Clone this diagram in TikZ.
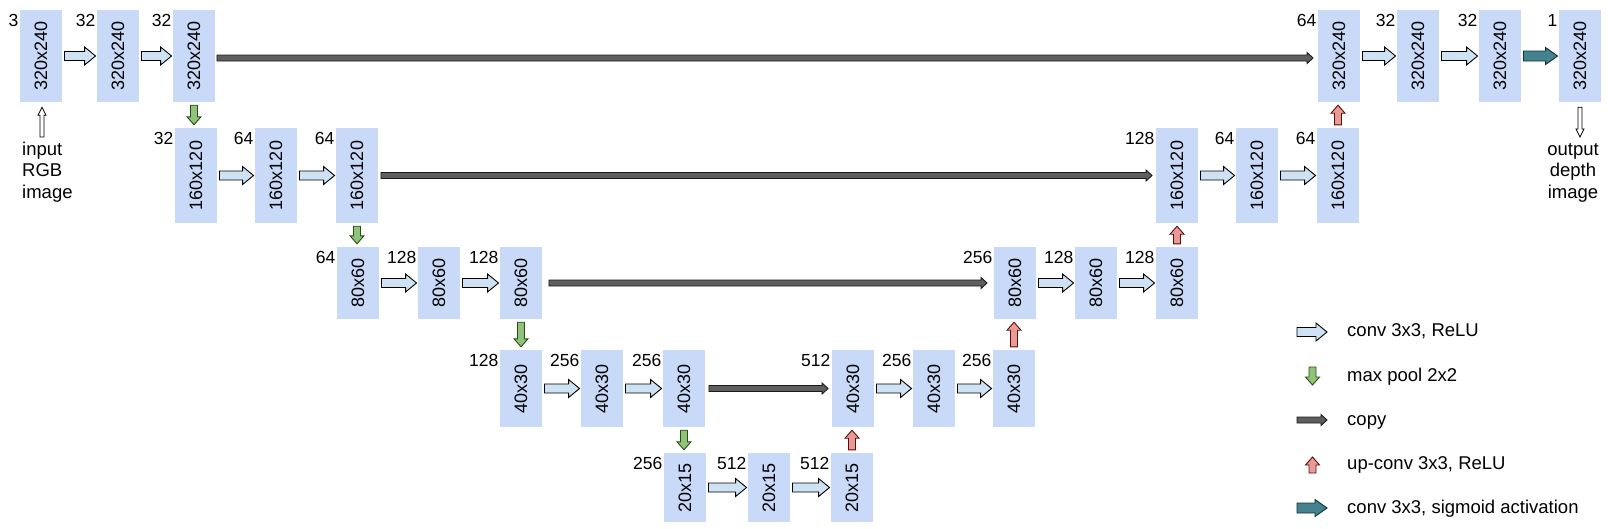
\documentclass[tikz,border=0pt]{standalone}
\usepackage{fontspec}
\setmainfont{Liberation Sans}
\usepackage{graphicx}
\usetikzlibrary{calc}
\definecolor{boxblue}{HTML}{C9DAF8}
\definecolor{convfill}{HTML}{CFE2F3}
\definecolor{poolfill}{HTML}{8FC27A}
\definecolor{pooldraw}{HTML}{274E13}
\definecolor{upfill}{HTML}{EA9999}
\definecolor{updraw}{HTML}{5B0F00}
\definecolor{copyfill}{HTML}{5E5E5E}
\definecolor{copydraw}{HTML}{1A1A1A}
\definecolor{sigfill}{HTML}{45818E}
\definecolor{sigdraw}{HTML}{0C343D}
% horizontal block arrow: style, start, end, half body, half head, head length
\newcommand\harr[6]{\filldraw[#1] let \p1=#2, \p2=#3 in
  (\x1,{\y1+#4}) -- ({\x2-#6},{\y1+#4}) -- ({\x2-#6},{\y1+#5}) -- (\x2,\y1)
  -- ({\x2-#6},{\y1-#5}) -- ({\x2-#6},{\y1-#4}) -- (\x1,{\y1-#4}) -- cycle;}
% downward block arrow
\newcommand\darr[6]{\filldraw[#1] let \p1=#2, \p2=#3 in
  ({\x1-#4},\y1) -- ({\x1-#4},{\y2+#6}) -- ({\x1-#5},{\y2+#6}) -- (\x1,\y2)
  -- ({\x1+#5},{\y2+#6}) -- ({\x1+#4},{\y2+#6}) -- ({\x1+#4},\y1) -- cycle;}
% upward block arrow
\newcommand\uarr[6]{\filldraw[#1] let \p1=#2, \p2=#3 in
  ({\x1-#4},\y1) -- ({\x1-#4},{\y2-#6}) -- ({\x1-#5},{\y2-#6}) -- (\x1,\y2)
  -- ({\x1+#5},{\y2-#6}) -- ({\x1+#4},{\y2-#6}) -- ({\x1+#4},\y1) -- cycle;}
\newcommand\bx[6]{%
  \node[#2] (#1) at (#3,#4) {\rotatebox{90}{#5}};
  \node[lbl] (#1l) at ([xshift=-1.5pt,yshift=-4pt]#1.north west) {#6};}
\newcommand\convar[2]{\harr{convst}{([xshift=2.5pt]#1.east)}{([xshift=-1.5pt]#2.west)}{4.5pt}{9pt}{11pt}}
\newcommand\poolar[2]{\darr{poolst}{([yshift=-3pt]#1.south)}{([yshift=3pt]#2.north)}{3.5pt}{7pt}{8pt}}
\newcommand\upar[2]{\uarr{upst}{([yshift=3pt]#1.north)}{([yshift=-3pt]#2.south)}{3.5pt}{7pt}{8pt}}
\newcommand\copyar[2]{\harr{copyst}{#1}{#2}{3pt}{5.5pt}{6pt}}
\begin{document}
\begin{tikzpicture}[x=1pt,y=-1pt,
  blk/.style={fill=boxblue, draw=none, minimum width=41.5pt, inner sep=0pt,
    font=\fontsize{18}{20}\selectfont},
  rowa/.style={blk, minimum height=92pt},
  rowb/.style={blk, minimum height=95pt},
  rowc/.style={blk, minimum height=72pt},
  rowd/.style={blk, minimum height=77pt},
  rowe/.style={blk, minimum height=69pt},
  lbl/.style={inner sep=0pt, anchor=north east, font=\fontsize{17.5}{20}\selectfont},
  convst/.style={fill=convfill, draw=black, line width=0.9pt, line join=miter},
  poolst/.style={fill=poolfill, draw=pooldraw, line width=0.9pt, line join=miter},
  upst/.style={fill=upfill, draw=updraw, line width=0.9pt, line join=miter},
  copyst/.style={fill=copyfill, draw=copydraw, line width=0.9pt, line join=miter},
  sigst/.style={fill=sigfill, draw=sigdraw, line width=0.9pt, line join=miter},
  iost/.style={fill=white, draw=black, line width=0.8pt, line join=miter},
  txt/.style={inner sep=0pt, font=\fontsize{18.5}{21.5}\selectfont},
  ]
\useasboundingbox (0,0) rectangle (1608,528);
% row 1
\bx{A1}{rowa}{41}{56}{320x240}{3}
\bx{A2}{rowa}{118}{56}{320x240}{32}
\bx{A3}{rowa}{194}{56}{320x240}{32}
\bx{A4}{rowa}{1339}{56}{320x240}{64}
\bx{A5}{rowa}{1418}{56}{320x240}{32}
\bx{A6}{rowa}{1500}{56}{320x240}{32}
\bx{A7}{rowa}{1580}{56}{320x240}{1}
% row 2
\bx{B1}{rowb}{196}{175.5}{160x120}{32}
\bx{B2}{rowb}{276}{175.5}{160x120}{64}
\bx{B3}{rowb}{357}{175.5}{160x120}{64}
\bx{B4}{rowb}{1177}{175.5}{160x120}{128}
\bx{B5}{rowb}{1257}{175.5}{160x120}{64}
\bx{B6}{rowb}{1338}{175.5}{160x120}{64}
% row 3
\bx{C1}{rowc}{358}{283}{80x60}{64}
\bx{C2}{rowc}{439}{283}{80x60}{128}
\bx{C3}{rowc}{521}{283}{80x60}{128}
\bx{C4}{rowc}{1015}{283}{80x60}{256}
\bx{C5}{rowc}{1096}{283}{80x60}{128}
\bx{C6}{rowc}{1177}{283}{80x60}{128}
% row 4
\bx{D1}{rowd}{521}{388.5}{40x30}{128}
\bx{D2}{rowd}{602}{388.5}{40x30}{256}
\bx{D3}{rowd}{684}{388.5}{40x30}{256}
\bx{D4}{rowd}{853}{388.5}{40x30}{512}
\bx{D5}{rowd}{934}{388.5}{40x30}{256}
\bx{D6}{rowd}{1014}{388.5}{40x30}{256}
% row 5
\bx{E1}{rowe}{685}{487.5}{20x15}{256}
\bx{E2}{rowe}{769}{487.5}{20x15}{512}
\bx{E3}{rowe}{852}{487.5}{20x15}{512}
% conv arrows
\convar{A1}{A2}\convar{A2}{A3}\convar{A4}{A5}\convar{A5}{A6}
\convar{B1}{B2}\convar{B2}{B3}\convar{B4}{B5}\convar{B5}{B6}
\convar{C1}{C2}\convar{C2}{C3}\convar{C4}{C5}\convar{C5}{C6}
\convar{D1}{D2}\convar{D2}{D3}\convar{D4}{D5}\convar{D5}{D6}
\convar{E1}{E2}\convar{E2}{E3}
% sigmoid conv
\harr{sigst}{([xshift=2.5pt]A6.east)}{([xshift=-1.5pt]A7.west)}{5pt}{8.5pt}{12pt}
% copies
\copyar{([xshift=2pt,yshift=-2pt]A3.east)}{([xshift=-5pt]A4.west)}
\copyar{([xshift=3pt]B3.east)}{([xshift=-4pt]B4.west)}
\copyar{([xshift=7pt]C3.east)}{([xshift=-7pt]C4.west)}
\copyar{([xshift=4pt]D3.east)}{([xshift=-4pt]D4.west)}
% max pool
\poolar{A3}{B1}\poolar{B3}{C1}\poolar{C3}{D1}\poolar{D3}{E1}
% up-conv
\upar{E3}{D4}\upar{D6}{C4}\upar{C6}{B4}\upar{B6}{A4}
% input / output
\node[txt, anchor=north west, align=left] (intxt) at (22,141.5) {input\\RGB\\image};
\coordinate (inb) at (42,137);
\uarr{iost}{(inb)}{([yshift=-5pt]A1.south)}{2pt}{4pt}{8pt}
\node[txt, anchor=north, align=center] (outtxt) at (1573,143) {output\\depth\\image};
\coordinate (outb) at (1580,137);
\darr{iost}{([yshift=-5pt]A7.south)}{(outb)}{2pt}{4pt}{8pt}
% legend
\coordinate (l1a) at (1297,332); \coordinate (l1b) at (1327,332);
\coordinate (l2a) at (1312.5,367); \coordinate (l2b) at (1312.5,385);
\coordinate (l3a) at (1297,420); \coordinate (l3b) at (1327,420);
\coordinate (l4a) at (1312.5,473); \coordinate (l4b) at (1312.5,457);
\coordinate (l5a) at (1297,508); \coordinate (l5b) at (1327,508);
\harr{convst}{(l1a)}{(l1b)}{4.5pt}{9pt}{11pt}
\darr{poolst}{(l2a)}{(l2b)}{3.5pt}{7pt}{8pt}
\harr{copyst}{(l3a)}{(l3b)}{3pt}{5.5pt}{6pt}
\uarr{upst}{(l4a)}{(l4b)}{3.5pt}{7pt}{8pt}
\harr{sigst}{(l5a)}{(l5b)}{5pt}{8.5pt}{12pt}
\node[txt, anchor=base west] (t1) at (1347,336) {conv 3x3, ReLU};
\node[txt, anchor=base west] (t2) at (1347,381) {max pool 2x2};
\node[txt, anchor=base west] (t3) at (1347,425) {copy};
\node[txt, anchor=base west] (t4) at (1347,469) {up-conv 3x3, ReLU};
\node[txt, anchor=base west] (t5) at (1347,513) {conv 3x3, sigmoid activation};
\end{tikzpicture}
\end{document}
